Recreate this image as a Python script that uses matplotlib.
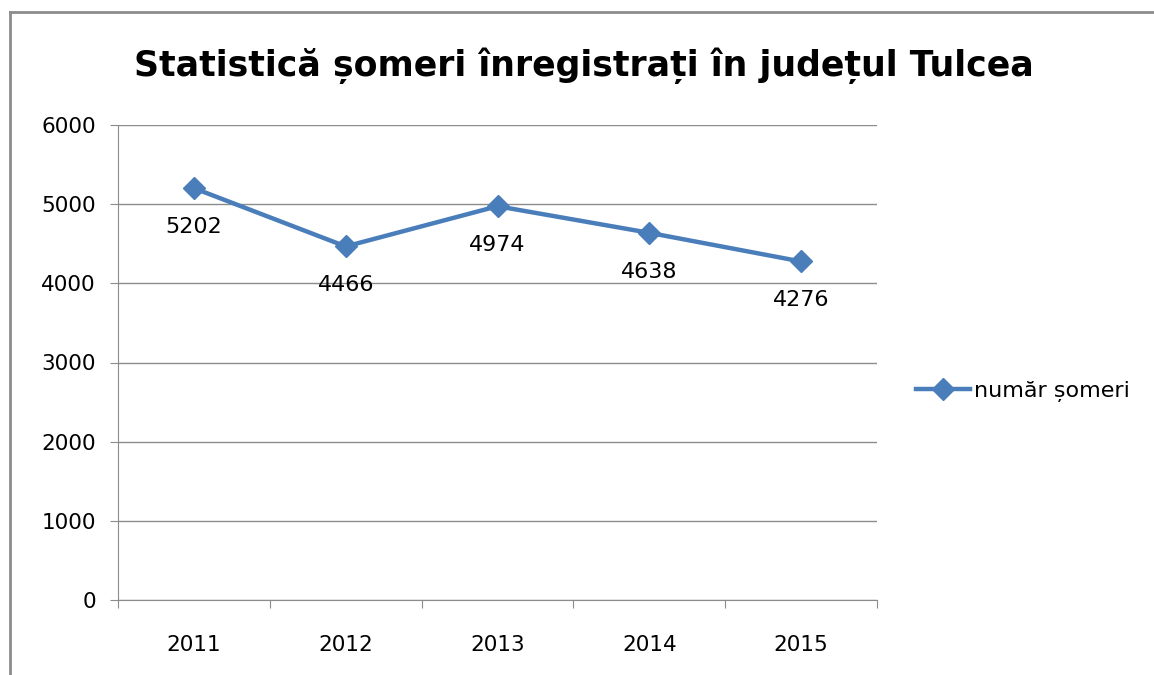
import matplotlib.pyplot as plt
from matplotlib.lines import Line2D

years = ['2011', '2012', '2013', '2014', '2015']
values = [5202, 4466, 4974, 4638, 4276]
y_ticks = [0, 1000, 2000, 3000, 4000, 5000, 6000]

blue = '#4a7ebb'
grey = '#8c8c8c'

fig = plt.figure(figsize=(11.54, 6.75), dpi=100)
ax = fig.add_axes([118 / 1154, 1 - 600 / 675, (877 - 118) / 1154, (600 - 125) / 675])

# border of the chart (only top and left visible)
fig.add_artist(Line2D([10 / 1154, 10 / 1154], [0, 1 - 12 / 675], transform=fig.transFigure,
                      color=grey, linewidth=2))
fig.add_artist(Line2D([10 / 1154, 1], [1 - 12 / 675, 1 - 12 / 675], transform=fig.transFigure,
                      color=grey, linewidth=2))

x = [i + 0.5 for i in range(len(years))]
ax.plot(x, values, color=blue, linewidth=3.2, marker='D', markersize=11,
        label='număr șomeri')
for xi, v in zip(x, values):
    ax.annotate(str(v), (xi, v), xytext=(0, -28), textcoords='offset points',
                ha='center', va='center', fontsize=16)

ax.set_xlim(0, len(years))
ax.set_ylim(0, 6000)
ax.set_yticks(y_ticks)
ax.set_xticks(range(len(years) + 1))
ax.set_xticklabels([])
ax.set_xticks(x, minor=True)
ax.set_xticklabels(years, minor=True)
ax.tick_params(axis='x', which='minor', length=0, pad=25, labelsize=15.5)
ax.tick_params(axis='x', which='major', length=6, color=grey)
ax.tick_params(axis='y', length=6, color=grey, labelsize=15.5, pad=10)
ax.yaxis.grid(True, color=grey, linewidth=1)
ax.set_axisbelow(True)
for s in ['top', 'right']:
    ax.spines[s].set_visible(False)
for s in ['left', 'bottom']:
    ax.spines[s].set_color(grey)

fig.text(138 / 1154 + (1030 - 138) / 2 / 1154, 1 - 66 / 675,
         'Statistică șomeri înregistrați în județul Tulcea',
         ha='center', va='center', fontsize=25, fontweight='bold')

ax.legend(loc='center left', bbox_to_anchor=(1.04, 0.44), frameon=False, fontsize=16,
          handlelength=2.4, handletextpad=0.2, borderaxespad=0)

fig.savefig('out.png', dpi=100)
